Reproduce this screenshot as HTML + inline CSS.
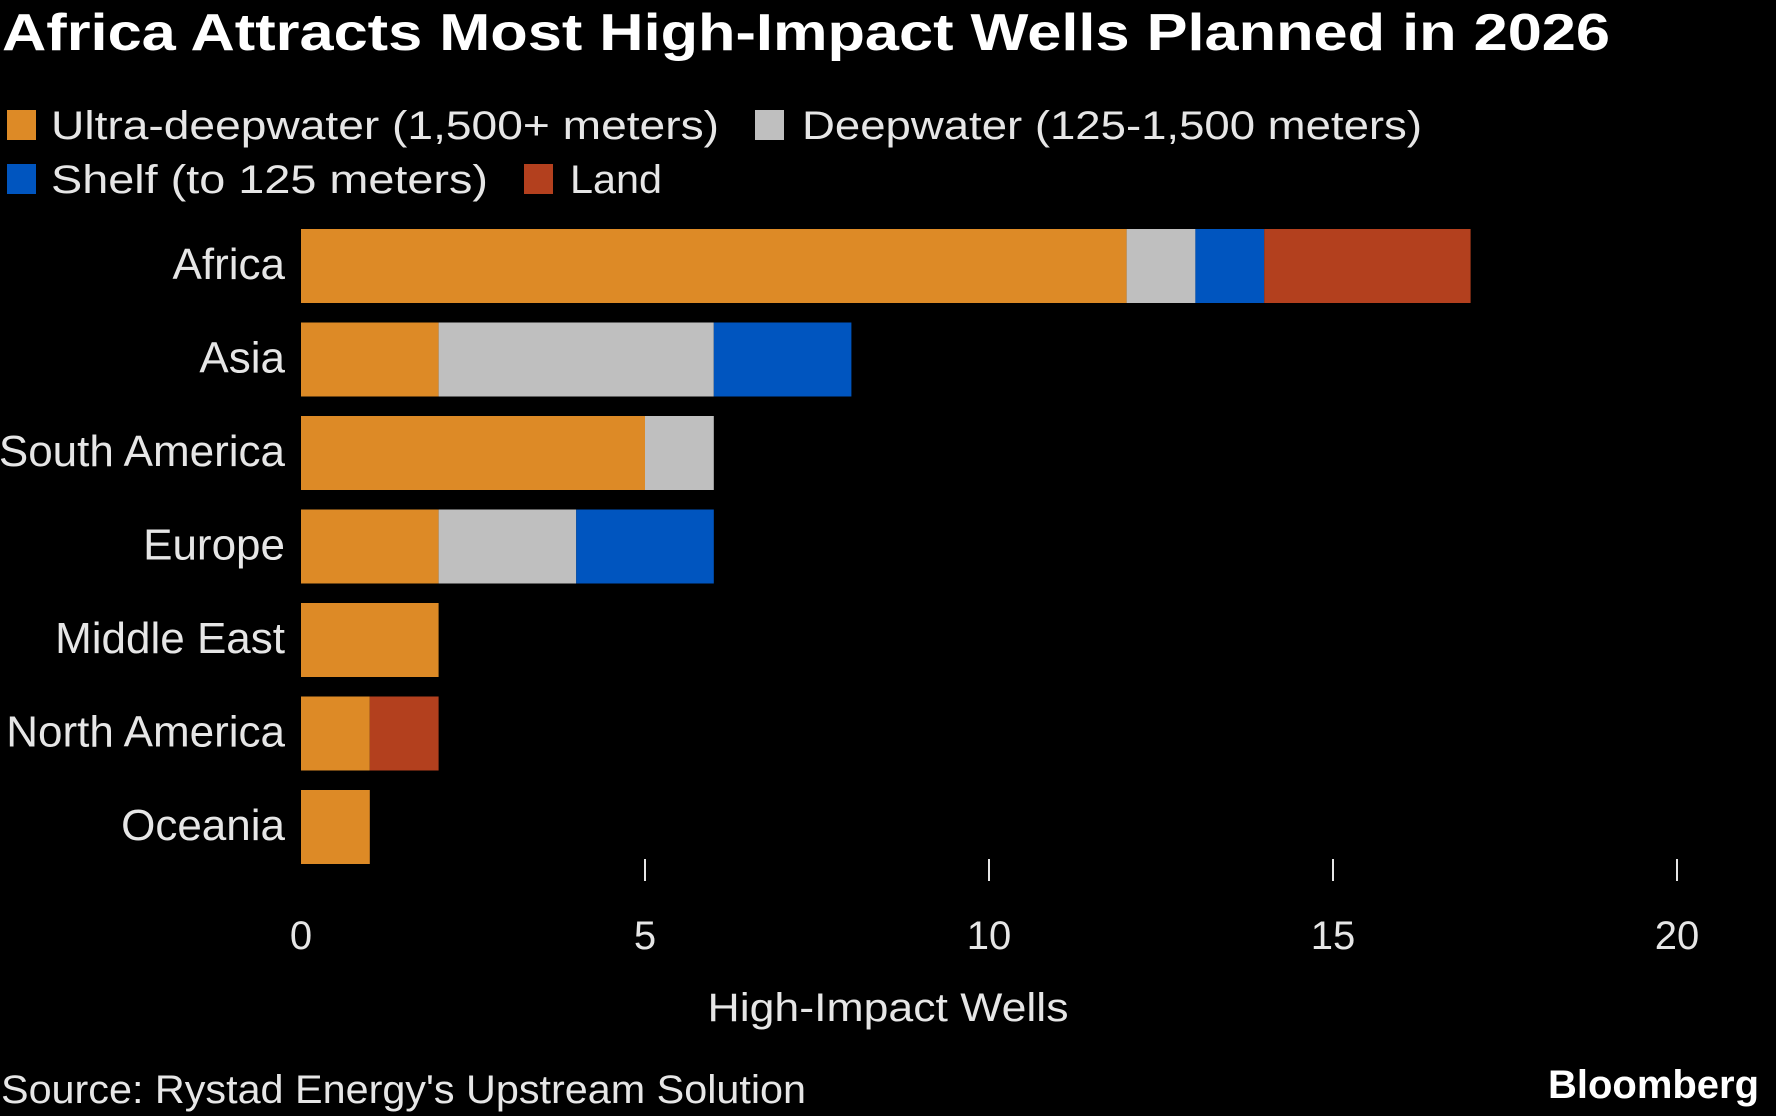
<!DOCTYPE html>
<html><head><meta charset="utf-8"><style>
html,body{margin:0;padding:0;background:#000;}
svg{display:block;font-family:"Liberation Sans Narrow","Liberation Sans",sans-serif;}
</style></head><body>
<svg id="chart" width="1776" height="1116" viewBox="0 0 1776 1116">
<text x="2" y="50" font-size="52" font-weight="bold" fill="#ffffff" textLength="1608" lengthAdjust="spacingAndGlyphs" font-family="Liberation Sans, sans-serif">Africa Attracts Most High-Impact Wells Planned in 2026</text>
<g>
<rect x="7" y="110" width="29" height="30" fill="#dd8a26"/>
<text x="51" y="139" font-size="40" fill="#e6e6e6" textLength="668" lengthAdjust="spacingAndGlyphs">Ultra-deepwater (1,500+ meters)</text>
<rect x="755" y="110" width="29" height="30" fill="#bfbfbf"/>
<text x="802" y="139" font-size="40" fill="#e6e6e6" textLength="620" lengthAdjust="spacingAndGlyphs">Deepwater (125-1,500 meters)</text>
<rect x="7" y="164" width="29" height="30" fill="#0055bf"/>
<text x="51" y="193" font-size="40" fill="#e6e6e6" textLength="437" lengthAdjust="spacingAndGlyphs">Shelf (to 125 meters)</text>
<rect x="524" y="164" width="29" height="30" fill="#b3401e"/>
<text x="570" y="193" font-size="40" fill="#e6e6e6" textLength="92" lengthAdjust="spacingAndGlyphs">Land</text>
</g>
<g id="bars"></g>
<g id="axis"></g>
<text x="888" y="1021" font-size="40" fill="#e6e6e6" text-anchor="middle" textLength="361" lengthAdjust="spacingAndGlyphs">High-Impact Wells</text>
<text x="1" y="1103" font-size="40" fill="#e6e6e6" textLength="805" lengthAdjust="spacingAndGlyphs">Source: Rystad Energy's Upstream Solution</text>
<text x="1759" y="1098" font-size="40" font-weight="bold" fill="#ffffff" text-anchor="end" textLength="211" lengthAdjust="spacingAndGlyphs" font-family="Liberation Sans, sans-serif">Bloomberg</text>
</svg>
<script>
const categories = ["Africa","Asia","South America","Europe","Middle East","North America","Oceania"];
const ultraDeep = [12,2,5,2,2,1,1];
const deep = [1,4,1,2,0,0,0];
const shelf = [1,2,0,2,0,0,0];
const land = [3,0,0,0,0,1,0];
const ticks = [0,5,10,15,20];

const NS = "http://www.w3.org/2000/svg";
const x0 = 301, xMax = 1677;
const xs = v => x0 + v * (xMax - x0) / 20;
const yTop = i => 229 + i * 93.5;
const barH = 74;
const series = [
  {name:"ultra-deepwater", vals: ultraDeep, color:"#dd8a26"},
  {name:"deepwater", vals: deep, color:"#bfbfbf"},
  {name:"shelf", vals: shelf, color:"#0055bf"},
  {name:"land", vals: land, color:"#b3401e"}
];
const bars = document.getElementById("bars");
categories.forEach((c, i) => {
  const t = document.createElementNS(NS, "text");
  t.setAttribute("x", 285);
  t.setAttribute("y", yTop(i) + barH / 2 + 13);
  t.setAttribute("font-size", "44");
  t.setAttribute("fill", "#e6e6e6");
  t.setAttribute("text-anchor", "end");
  
  
  t.textContent = c;
  bars.appendChild(t);
  let acc = 0;
  series.forEach(s => {
    const v = s.vals[i];
    if (v > 0) {
      const r = document.createElementNS(NS, "rect");
      r.setAttribute("x", xs(acc));
      r.setAttribute("y", yTop(i));
      r.setAttribute("width", xs(acc + v) - xs(acc));
      r.setAttribute("height", barH);
      r.setAttribute("fill", s.color);
      
      
      bars.appendChild(r);
    }
    acc += v;
  });
});
const axis = document.getElementById("axis");
ticks.forEach(tv => {
  if (tv > 0) {
    const l = document.createElementNS(NS, "line");
    l.setAttribute("x1", xs(tv)); l.setAttribute("x2", xs(tv));
    l.setAttribute("y1", 859); l.setAttribute("y2", 881);
    l.setAttribute("stroke", "#e6e6e6"); l.setAttribute("stroke-width", "2");
    
    
    axis.appendChild(l);
  }
  const t = document.createElementNS(NS, "text");
  t.setAttribute("x", xs(tv));
  t.setAttribute("y", 949);
  t.setAttribute("font-size", "40");
  t.setAttribute("fill", "#e6e6e6");
  t.setAttribute("text-anchor", "middle");
  
  
  t.textContent = tv;
  axis.appendChild(t);
});
</script>
</body></html>
